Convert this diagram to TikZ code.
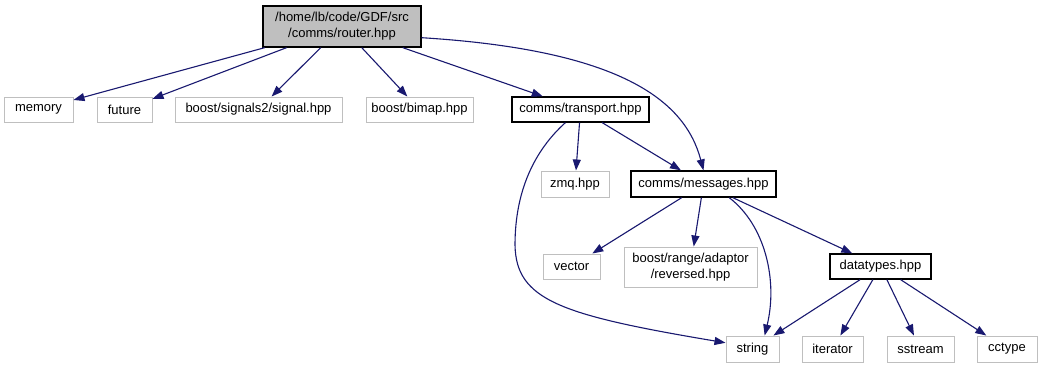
\documentclass[tikz,border=0pt]{standalone}
\usepackage{fontspec}
\setmainfont{Liberation Sans}
\usepackage{tikz}
\usetikzlibrary{arrows.meta}
\definecolor{IncEdge}{HTML}{191970}
\definecolor{IncGray}{HTML}{BFBFBF}

\begin{document}
\begin{tikzpicture}[x=1pt, y=-1pt, font=\fontsize{13}{16}\selectfont,
  hdr/.style={draw=IncGray, line width=1pt, fill=white, inner sep=0pt, minimum height=25pt},
  doc/.style={hdr, draw=black, line width=1.3pt},
  dep/.style={draw=IncEdge, line width=1.1pt, -{Triangle[length=11pt,width=8pt]}}]
  \useasboundingbox[fill=white] (0,0) rectangle (1059,368);
  % root file
  \node[doc, fill=IncGray, minimum width=158pt, minimum height=41pt, align=center] (router) at (342,26.5)
    {/home/lb/code/GDF/src\\/comms/router.hpp};
  % first row
  \node[hdr, minimum width=69pt] (memory) at (38.5,109.5) {memory};
  \node[hdr, minimum width=55pt] (future) at (124.5,109.5) {future};
  \node[hdr, minimum width=167pt] (signal) at (258.5,109.5) {boost/signals2/signal.hpp};
  \node[hdr, minimum width=107pt] (bimap) at (419.5,109.5) {boost/bimap.hpp};
  \node[doc, minimum width=137pt] (transport) at (580.5,109.5) {comms/transport.hpp};
  % second row
  \node[hdr, minimum width=68pt, minimum height=26pt] (zmq) at (575,184) {zmq.hpp};
  \node[doc, minimum width=145pt, minimum height=26pt] (messages) at (703.5,184) {comms/messages.hpp};
  % third row
  \node[hdr, minimum width=57pt] (vector) at (571.5,266.5) {vector};
  \node[hdr, minimum width=133pt, minimum height=40pt, align=center] (reversed) at (690.5,267)
    {boost/range/adaptor\\/reversed.hpp};
  \node[doc, minimum width=101pt] (datatypes) at (880.5,266.5) {datatypes.hpp};
  % bottom row
  \node[hdr, minimum width=53pt, minimum height=26pt] (string) at (752.5,349) {string};
  \node[hdr, minimum width=61pt, minimum height=26pt] (iterator) at (832.5,349) {iterator};
  \node[hdr, minimum width=67pt, minimum height=26pt] (sstream) at (920.5,349) {sstream};
  \node[hdr, minimum width=60pt, minimum height=26pt] (cctype) at (1007,349) {cctype};

  % includes of router.hpp
  \foreach \t in {memory,future,signal,bimap,transport}
    \draw[dep] (router) -- (\t);
  \draw[dep] (router.-8) .. controls (620,50) and (685,100) .. (messages.north);
  % includes of transport.hpp
  \draw[dep] (transport) -- (zmq);
  \draw[dep] (transport) -- (messages);
  \draw[dep] (transport.-139) .. controls (535,150) and (515,190) .. (515,245)
    .. controls (516,300) and (560,315) .. (string.167);
  % includes of messages.hpp
  \foreach \t in {vector,reversed,datatypes}
    \draw[dep] (messages) -- (\t);
  \draw[dep] (messages.-28) .. controls (765,225) and (778,280) .. (string.48);
  % includes of datatypes.hpp
  \foreach \t in {string,iterator,sstream,cctype}
    \draw[dep] (datatypes) -- (\t);
\end{tikzpicture}
\end{document}
